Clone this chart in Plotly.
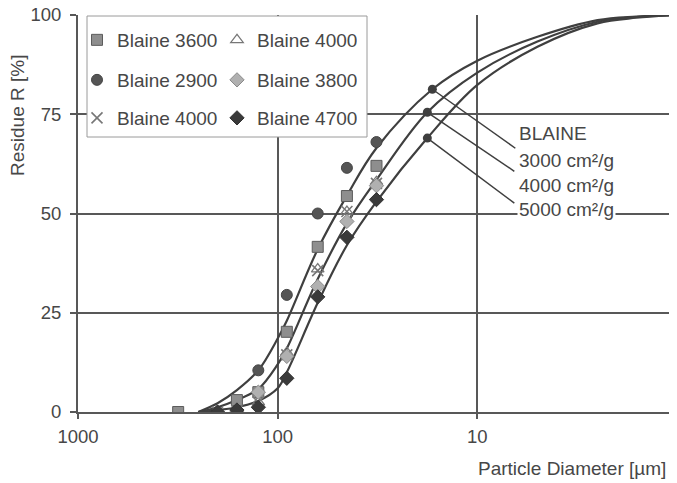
import plotly.graph_objects as go

# ---------------- data ----------------
# measured residues at sieve sizes [µm]
d_3600 = [315, 160, 125, 90, 63, 45, 32]
r_3600 = [0, 3, 5, 20.2, 41.6, 54.4, 62]
d_2900 = [125, 90, 63, 45, 32]
r_2900 = [10.5, 29.5, 50, 61.5, 68]
d_4000x = [200, 160, 125, 90, 63, 45, 32]
r_4000x = [0, 0.3, 2.5, 14.4, 35.6, 50.5, 57.6]
d_4000t = [200, 160, 125, 90, 63, 45, 32]
r_4000t = [0, 0.5, 2.5, 15, 36, 50.5, 58]
d_3800 = [160, 125, 90, 63, 45, 32]
r_3800 = [0, 5, 14, 31.6, 48, 57]
d_4700 = [200, 160, 125, 90, 63, 45, 32]
r_4700 = [0, 0.5, 1.2, 8.5, 29, 44, 53.5]

# reference RRSB lines for Blaine 3000 / 4000 / 5000 cm²/g
curve_d_3000 = [250, 200, 160, 125, 100, 90, 63, 45, 32, 16.8, 10, 5, 2.5, 1.6, 1]
curve_r_3000 = [0, 2.2, 5.5, 10.5, 18.5, 23, 41, 54.5, 66.5, 81.3, 88.5, 94.5, 98.7, 99.6, 100]
curve_d_4000 = [250, 200, 160, 125, 100, 90, 63, 45, 32, 17.8, 10, 5, 2.5, 1.6, 1]
curve_r_4000 = [0, 1.2, 3, 5.8, 12, 16, 33.5, 47.5, 58.5, 75.5, 85.5, 93.3, 98.3, 99.5, 100]
curve_d_5000 = [250, 200, 160, 125, 100, 90, 63, 45, 32, 17.8, 10, 5, 2.5, 1.6, 1]
curve_r_5000 = [0, 0.5, 1.2, 2.8, 6, 10, 27.5, 42, 53, 69, 82.4, 92, 97.9, 99.3, 100]

label_d = [16.8, 17.8, 17.8]
label_r = [81.3, 75.5, 69]
label_text = ["3000 cm²/g", "4000 cm²/g", "5000 cm²/g"]

x_ticks = [1000, 100, 10, 1]
y_ticks = [0, 25, 50, 75, 100]

FONT = "Liberation Sans, Arial, sans-serif"
TXT = "#474747"
GRID = "#585858"

fig = go.Figure()

for cd, cr in [(curve_d_3000, curve_r_3000), (curve_d_4000, curve_r_4000), (curve_d_5000, curve_r_5000)]:
    fig.add_trace(go.Scatter(x=cd, y=cr, mode="lines", showlegend=False,
                             line=dict(color="#3f3f3f", width=2.2, shape="spline", smoothing=1.0),
                             hoverinfo="skip"))

series = [
    ("Blaine 3600", d_3600, r_3600, dict(symbol="square", size=11, color="#8e8e8e", line=dict(color="#5c5c5c", width=1)), "legend"),
    ("Blaine 2900", d_2900, r_2900, dict(symbol="circle", size=11, color="#555555", line=dict(color="#444444", width=1)), "legend2"),
    ("Blaine 4000", d_4000x, r_4000x, dict(symbol="x-thin-open", size=11, color="#777777", line=dict(color="#777777", width=1.6)), "legend3"),
    ("Blaine 4000", d_4000t, r_4000t, dict(symbol="triangle-up-open", size=11, color="#777777", line=dict(color="#777777", width=1.2)), "legend"),
    ("Blaine 3800", d_3800, r_3800, dict(symbol="diamond", size=11, color="#b0b0b0", line=dict(color="#8a8a8a", width=1)), "legend2"),
    ("Blaine 4700", d_4700, r_4700, dict(symbol="diamond", size=11, color="#3a3a3a", line=dict(color="#333333", width=1)), "legend3"),
]
for name, dx, ry, mk, lg in series:
    fig.add_trace(go.Scatter(x=dx, y=ry, mode="markers", name=name, marker=mk, legend=lg))

fig.add_trace(go.Scatter(x=label_d, y=label_r, mode="markers", showlegend=False,
                         marker=dict(symbol="circle", size=9, color="#3f3f3f")))

# page geometry (the page body has an 8 px margin)
OFF = 8
W, H = 669, 475
L, R_, T = 70, 0, 7
PW = W - L - R_
PH = 397
B = H - T - PH


def px_x(p):  # page pixel -> paper
    return (p - OFF - L) / PW


def px_y(p):
    return (OFF + T + PH - p) / PH


# leader lines from the dots to the labels
offs = [(83, -59), (87, -59), (87, -65)]
for i in range(3):
    fig.add_shape(type="line", xref="x", yref="y", xsizemode="pixel", ysizemode="pixel",
                  xanchor=label_d[i], yanchor=label_r[i],
                  x0=0, y0=0, x1=offs[i][0], y1=offs[i][1],
                  line=dict(color="#3f3f3f", width=1.5))

# legend box
fig.add_shape(type="rect", xref="paper", yref="paper", layer="above",
              x0=px_x(87), x1=px_x(367), y0=px_y(137), y1=px_y(16),
              fillcolor="white", line=dict(color="#9a9a9a", width=1))

ann = []
ann.append(dict(text="BLAINE", x=px_x(517), y=px_y(134)))
for i, t in enumerate(label_text):
    ann.append(dict(text=t, x=px_x(517), y=px_y([160, 185, 210][i]), bgcolor="white"))
for a in ann:
    fig.add_annotation(xref="paper", yref="paper", xanchor="left", yanchor="middle",
                       showarrow=False, font=dict(family=FONT, size=19, color=TXT), **a)

fig.add_annotation(text="Residue R [%]", xref="paper", yref="paper", x=px_x(18), y=px_y(116),
                   textangle=-90, showarrow=False, xanchor="center", yanchor="middle",
                   font=dict(family=FONT, size=19, color=TXT))
fig.add_annotation(text="Particle Diameter [µm]", xref="paper", yref="paper", x=px_x(668), y=px_y(468),
                   showarrow=False, xanchor="right", yanchor="middle",
                   font=dict(family=FONT, size=19, color=TXT))

leg_common = dict(orientation="h", xanchor="left", yanchor="middle", bgcolor="rgba(0,0,0,0)",
                  borderwidth=0, entrywidth=95, font=dict(family=FONT, size=19, color=TXT),
                  itemclick=False, tracegroupgap=0)
fig.update_layout(
    legend=dict(x=px_x(77), y=px_y(40), **leg_common),
    legend2=dict(x=px_x(77), y=px_y(80), **leg_common),
    legend3=dict(x=px_x(77), y=px_y(118), **leg_common),
)

fig.update_layout(
    width=W, height=H, template="none",
    margin=dict(l=L, r=R_, t=T, b=B, pad=0),
    paper_bgcolor="white", plot_bgcolor="white",
    font=dict(family=FONT, size=18.5, color=TXT),
    xaxis=dict(type="log", range=[3, 0], tickvals=x_ticks, ticktext=[str(v) for v in x_ticks],
               showgrid=True, gridcolor=GRID, gridwidth=1.5, showline=True, linecolor=GRID, linewidth=2,
               ticks="outside", ticklen=5, tickwidth=1.5, tickcolor=GRID, zeroline=False,
               automargin=False, ticklabelstandoff=2, ticklabeloverflow="allow",
               tickfont=dict(size=18.5, color=TXT)),
    yaxis=dict(range=[0, 100], tickvals=y_ticks, showgrid=True, gridcolor=GRID, gridwidth=1.5,
               showline=True, linecolor=GRID, linewidth=2, ticks="outside", ticklen=6, tickwidth=1.5,
               tickcolor=GRID, zeroline=False, automargin=False, ticklabelstandoff=5,
               ticklabeloverflow="allow", tickfont=dict(size=18.5, color=TXT)),
)

fig.write_html("out.html")
